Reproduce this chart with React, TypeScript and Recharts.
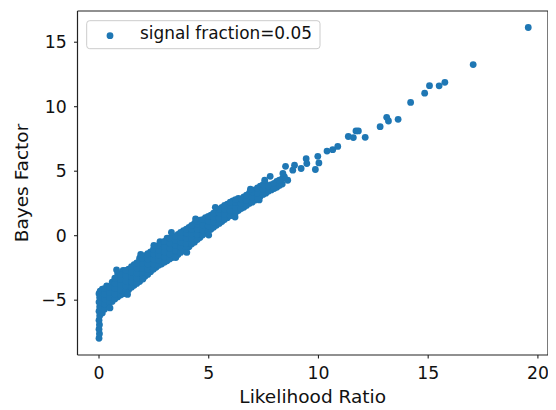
import React from 'react';
import { ScatterChart, Scatter, XAxis, YAxis } from 'recharts';

type Pt = [number, number];

// Likelihood Ratio (x), Bayes Factor (y)
const stemPoints: Pt[] = [
  [0.0, -7.95], [0.02, -7.6], [0.0, -7.25], [0.02, -6.9], [0.0, -6.55], [0.03, -6.2],
  [0.0, -5.85], [0.03, -5.5], [0.0, -5.15], [0.03, -4.8], [0.0, -4.5], [0.05, -4.3],
];

const bandLow: Pt[] = [
  [0.15, -6.0], [0.15, -5.6], [0.15, -5.2], [0.15, -4.8], [0.15, -4.4], [0.15, -4.15],
  [0.35, -5.4], [0.35, -5.0], [0.35, -4.6], [0.35, -4.2], [0.35, -3.9],
  [0.6, -5.1], [0.6, -4.7], [0.6, -4.3], [0.6, -3.9], [0.6, -3.6],
  [0.85, -4.75], [0.85, -4.35], [0.85, -3.95], [0.85, -3.55], [0.85, -3.15], [0.85, -2.9],
  [1.1, -4.5], [1.1, -4.1], [1.1, -3.7], [1.1, -3.3], [1.1, -2.9], [1.1, -2.7],
  [1.35, -4.2], [1.35, -3.8], [1.35, -3.4], [1.35, -3.0], [1.35, -2.6],
  [1.6, -3.85], [1.6, -3.45], [1.6, -3.05], [1.6, -2.65], [1.6, -2.25],
  [1.85, -3.55], [1.85, -3.15], [1.85, -2.75], [1.85, -2.35], [1.85, -1.95], [1.85, -1.75],
];

const bandMid: Pt[] = [
  [2.1, -3.15], [2.1, -2.75], [2.1, -2.35], [2.1, -1.95], [2.1, -1.55],
  [2.35, -2.8], [2.35, -2.4], [2.35, -2.0], [2.35, -1.6], [2.35, -1.25],
  [2.6, -2.45], [2.6, -2.05], [2.6, -1.65], [2.6, -1.25], [2.6, -0.9],
  [2.78, -0.46],
  [2.85, -2.2], [2.85, -1.8], [2.85, -1.4], [2.85, -1.0], [2.85, -0.6],
  [3.1, -1.95], [3.1, -1.55], [3.1, -1.15], [3.1, -0.75], [3.1, -0.35], [3.1, -0.2],
  [3.35, -1.7], [3.35, -1.3], [3.35, -0.9], [3.35, -0.5], [3.35, -0.1],
  [3.6, -1.45], [3.6, -1.05], [3.6, -0.65], [3.6, -0.25], [3.6, 0.1],
  [3.85, -1.15], [3.85, -0.75], [3.85, -0.35], [3.85, 0.05], [3.85, 0.4],
  [4.1, -0.85], [4.1, -0.45], [4.1, -0.05], [4.1, 0.35], [4.1, 0.65],
  [4.35, -0.5], [4.35, -0.1], [4.35, 0.3], [4.35, 0.7], [4.35, 0.95],
];

const bandHigh: Pt[] = [
  [4.6, -0.15], [4.6, 0.25], [4.6, 0.65], [4.6, 1.05], [4.6, 1.2],
  [4.85, 0.2], [4.85, 0.6], [4.85, 1.0], [4.85, 1.4],
  [5.1, 0.5], [5.1, 0.9], [5.1, 1.3], [5.1, 1.6],
  [5.35, 0.8], [5.35, 1.2], [5.35, 1.6], [5.35, 1.9],
  [5.6, 1.1], [5.6, 1.5], [5.6, 1.9], [5.6, 2.2],
  [5.85, 1.4], [5.85, 1.8], [5.85, 2.2], [5.85, 2.45],
  [6.1, 1.65], [6.1, 2.05], [6.1, 2.45], [6.1, 2.7],
  [6.35, 1.95], [6.35, 2.35], [6.35, 2.75], [6.35, 2.9],
  [6.6, 2.2], [6.6, 2.6], [6.6, 3.0],
  [6.85, 2.5], [6.85, 2.9], [6.85, 3.3],
  [7.1, 2.75], [7.1, 3.15], [7.1, 3.55],
  [7.3, 2.77],
  [7.35, 3.05], [7.35, 3.45], [7.35, 3.85],
  [7.6, 3.3], [7.6, 3.7], [7.6, 4.0],
  [7.8, 4.6],
  [7.85, 3.55], [7.85, 3.95],
  [8.1, 3.75], [8.1, 4.2],
  [8.35, 4.0], [8.35, 4.4],
  [8.6, 4.3], [8.45, 4.56],
];

const bandFill: Pt[] = [
  [0.25, -5.7], [0.25, -5.3], [0.25, -4.9], [0.25, -4.5], [0.25, -4.1],
  [0.48, -5.2], [0.48, -4.8], [0.48, -4.4], [0.48, -4.0],
  [0.72, -4.9], [0.72, -4.5], [0.72, -4.1], [0.72, -3.7], [0.72, -3.3],
  [0.98, -4.6], [0.98, -4.2], [0.98, -3.8], [0.98, -3.4], [0.98, -3.0],
  [1.22, -4.3], [1.22, -3.9], [1.22, -3.5], [1.22, -3.1], [1.22, -2.7],
  [1.48, -4.0], [1.48, -3.6], [1.48, -3.2], [1.48, -2.8], [1.48, -2.4],
  [1.72, -3.7], [1.72, -3.3], [1.72, -2.9], [1.72, -2.5], [1.72, -2.1],
  [1.98, -3.35], [1.98, -2.95], [1.98, -2.55], [1.98, -2.15], [1.98, -1.75],
  [2.22, -3.0], [2.22, -2.6], [2.22, -2.2], [2.22, -1.8], [2.22, -1.4],
  [2.48, -2.6], [2.48, -2.2], [2.48, -1.8], [2.48, -1.4], [2.48, -1.05],
  [2.72, -2.3], [2.72, -1.9], [2.72, -1.5], [2.72, -1.1], [2.72, -0.75],
  [2.98, -2.05], [2.98, -1.65], [2.98, -1.25], [2.98, -0.85], [2.98, -0.45],
  [3.22, -1.8], [3.22, -1.4], [3.22, -1.0], [3.22, -0.6], [3.22, -0.2],
  [3.48, -1.55], [3.48, -1.15], [3.48, -0.75], [3.48, -0.35], [3.48, -0.05],
  [3.72, -1.3], [3.72, -0.9], [3.72, -0.5], [3.72, -0.1], [3.72, 0.25],
  [3.98, -1.0], [3.98, -0.6], [3.98, -0.2], [3.98, 0.2], [3.98, 0.5],
  [4.22, -0.65], [4.22, -0.25], [4.22, 0.15], [4.22, 0.5], [4.22, 0.8],
  [4.48, -0.3], [4.48, 0.1], [4.48, 0.5], [4.48, 0.9], [4.48, 1.1],
  [4.72, 0.05], [4.72, 0.45], [4.72, 0.85], [4.72, 1.25],
  [4.98, 0.35], [4.98, 0.75], [4.98, 1.15], [4.98, 1.5],
  [5.22, 0.65], [5.22, 1.05], [5.22, 1.45], [5.22, 1.75],
  [5.48, 0.95], [5.48, 1.35], [5.48, 1.75], [5.48, 2.05],
  [5.72, 1.25], [5.72, 1.65], [5.72, 2.05], [5.72, 2.35],
  [5.98, 1.55], [5.98, 1.95], [5.98, 2.35], [5.98, 2.6],
  [6.22, 1.8], [6.22, 2.2], [6.22, 2.6], [6.22, 2.8],
  [6.48, 2.1], [6.48, 2.5], [6.48, 2.85],
  [6.72, 2.35], [6.72, 2.75], [6.72, 3.15],
  [6.98, 2.6], [6.98, 3.0], [6.98, 3.4],
  [7.22, 2.9], [7.22, 3.3], [7.22, 3.7],
  [7.48, 3.2], [7.48, 3.6], [7.48, 3.95],
  [7.72, 3.45], [7.72, 3.85],
  [7.98, 3.65], [7.98, 4.05],
  [8.22, 3.9], [8.22, 4.3],
];

const edgePoints: Pt[] = [
  [0.8, -2.65], [1.9, -1.45], [2.5, -0.75], [3.3, 0.25], [4.4, 1.3], [5.3, 2.2],
  [6.9, 3.6], [7.55, 4.3], [0.5, -5.6], [1.3, -4.55], [2.0, -3.35], [3.5, -1.7],
  [4.0, -1.3], [5.0, 0.05], [6.2, 1.45],
];

const sparsePoints: Pt[] = [
  [8.38, 4.82], [8.5, 5.38], [8.83, 5.08], [8.91, 5.46], [9.21, 5.21], [9.44, 5.97],
  [9.47, 5.59], [9.86, 5.13], [10.02, 5.64], [9.97, 6.15], [10.39, 6.56], [10.65, 6.67],
  [10.88, 6.92],
];

const tailPoints: Pt[] = [
  [11.36, 7.69], [11.59, 7.61], [11.71, 8.12], [11.82, 8.12], [12.13, 7.63], [12.81, 8.45],
  [13.11, 9.18], [13.19, 8.89], [13.63, 9.02], [14.2, 10.33], [14.84, 11.05], [15.06, 11.63],
  [15.5, 11.62], [15.76, 11.89], [17.05, 13.27], [19.56, 16.14],
];

const xTicks = [0, 5, 10, 15, 20];
const yTicks = [-5, 0, 5, 10, 15];
const seriesName = 'signal fraction=0.05';
const xLabel = 'Likelihood Ratio';
const yLabel = 'Bayes Factor';

const data = [
  ...stemPoints,
  ...bandLow,
  ...bandMid,
  ...bandHigh,
  ...bandFill,
  ...edgePoints,
  ...sparsePoints,
  ...tailPoints,
].map(([x, y]) => ({ x, y }));

const FONT = 'DejaVu Sans';
const BLUE = '#1f77b4';
const AXIS = '#222';

const fmt = (v: number) => String(v).replace('-', '\u2212');

const Dot = (p: any) => <circle cx={p.cx} cy={p.cy} r={3.4} fill={BLUE} />;

export default function App() {
  return (
    <div style={{ position: 'relative', width: 548, height: 402 }}>
      <ScatterChart width={548} height={402} margin={{ top: 0, right: 0, bottom: 0, left: 0 }}>
        <XAxis
          xAxisId="b"
          type="number"
          dataKey="x"
          domain={[-0.98, 20.46]}
          ticks={xTicks}
          allowDataOverflow
          height={55}
          tickSize={3.5}
          tickMargin={8.7}
          tickFormatter={fmt}
          axisLine={{ stroke: AXIS, strokeWidth: 1.2 }}
          tickLine={{ stroke: AXIS, strokeWidth: 1.1 }}
          tick={{ fill: '#111', fontSize: 17.3, fontFamily: FONT }}
        />
        <XAxis
          xAxisId="t"
          orientation="top"
          type="number"
          domain={[-0.98, 20.46]}
          ticks={xTicks}
          allowDataOverflow
          height={3}
          tick={false}
          tickLine={false}
          axisLine={{ stroke: AXIS, strokeWidth: 1.2 }}
        />
        <YAxis
          yAxisId="l"
          type="number"
          dataKey="y"
          domain={[-9.25, 17.42]}
          ticks={yTicks}
          allowDataOverflow
          width={69.5}
          tickSize={3.5}
          tickMargin={7.3}
          tickFormatter={fmt}
          axisLine={{ stroke: AXIS, strokeWidth: 1.2 }}
          tickLine={{ stroke: AXIS, strokeWidth: 1.1 }}
          tick={{ fill: '#111', fontSize: 17.3, fontFamily: FONT }}
        />
        <YAxis
          yAxisId="r"
          orientation="right"
          type="number"
          domain={[-9.25, 17.42]}
          ticks={yTicks}
          allowDataOverflow
          width={8}
          tickSize={3.5}
          tick={false}
          axisLine={{ stroke: AXIS, strokeWidth: 1.2 }}
          tickLine={{ stroke: AXIS, strokeWidth: 1.1 }}
        />
        <Scatter
          xAxisId="b"
          yAxisId="l"
          data={data}
          fill={BLUE}
          shape={Dot}
          isAnimationActive={false}
        />
      </ScatterChart>
      <svg
        width={548}
        height={402}
        style={{ position: 'absolute', left: 0, top: 0, pointerEvents: 'none' }}
      >
        <rect x={78.7} y={12.7} width={233.3} height={28} rx={3} fill="#fff" fillOpacity={0.8} stroke="#ccc" strokeWidth={1} />
        <circle cx={102} cy={27.7} r={3.4} fill={BLUE} />
        <text x={132} y={30.7} fontSize={16.9} fontFamily={FONT} fill="#111">
          {seriesName}
        </text>
        <text x={304.7} y={395.3} fontSize={18.5} fontFamily={FONT} fill="#111" textAnchor="middle">
          {xLabel}
        </text>
        <text
          x={0}
          y={0}
          transform="translate(20,175) rotate(-90)"
          fontSize={18.5}
          fontFamily={FONT}
          fill="#111"
          textAnchor="middle"
        >
          {yLabel}
        </text>
      </svg>
    </div>
  );
}
